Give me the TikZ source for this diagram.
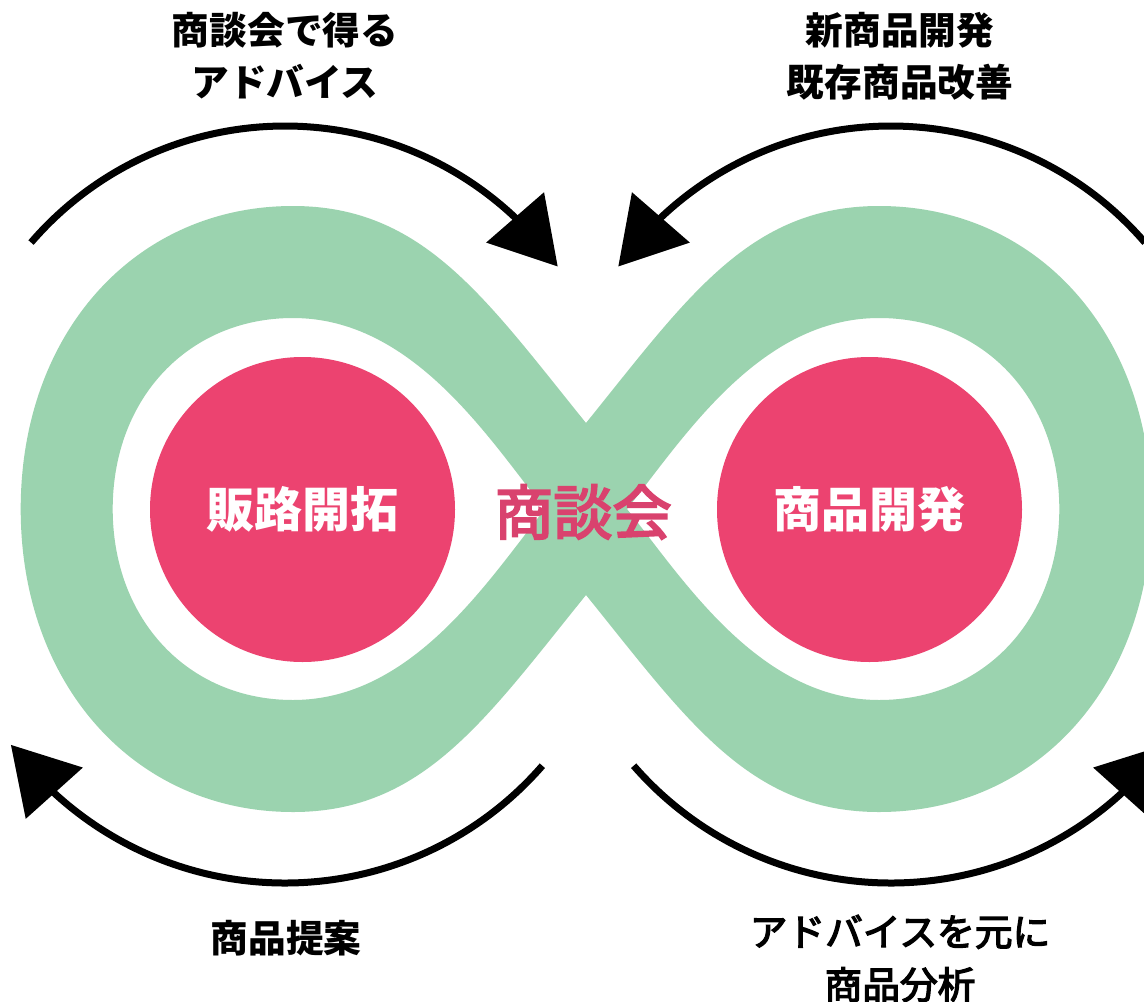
\documentclass[tikz,border=0pt]{standalone}
\usepackage{fontspec}
\newfontfamily\jp{Noto Sans CJK JP}
\newfontfamily\jpmed[FakeBold=3.5]{Noto Sans CJK JP}
\usetikzlibrary{arrows.meta,bending,calc}
\definecolor{bandgreen}{HTML}{9BD3AF}
\definecolor{hubred}{HTML}{EC4370}
\definecolor{hubtxt}{HTML}{D9426E}
\begin{document}
\begin{tikzpicture}[x=1pt,y=-1pt,
  lbl/.style={font={\jp\bfseries\fontsize{37.7pt}{52pt}\selectfont}, align=center, text=black, inner sep=0pt},
  lblmed/.style={font={\jpmed\fontsize{37.7pt}{53pt}\selectfont}, align=center, text=black, inner sep=0pt},
  hub/.style={circle, fill=hubred, minimum size=305pt, inner sep=0pt, text=white,
              font={\jp\bfseries\fontsize{48pt}{56pt}\selectfont}},
  cyc/.style={line width=7pt, -{Triangle[length=65pt,width=75pt,flex]}}]
\useasboundingbox (0,0) rectangle (1144,1002);
\fill[white] (0,0) rectangle (1144,1002);
\clip (0,0) rectangle (1144,1002);

% green figure-eight band
\fill[bandgreen, even odd rule]
  (586,423) .. controls (485,298) and (423,206) .. (293,206)
  .. controls (135,206) and (20.7,333) .. (20.7,509)
  .. controls (20.7,685) and (135,812) .. (293,812)
  .. controls (423,812) and (485,720) .. (586,595)
  .. controls (687,720) and (749,812) .. (879,812)
  .. controls (1037,812) and (1151.3,685) .. (1151.3,509)
  .. controls (1151.3,333) and (1037,206) .. (879,206)
  .. controls (749,206) and (687,298) .. cycle
  (293,318) .. controls (413,318) and (489,439) .. (545,509)
  .. controls (489,579) and (413,700) .. (293,700)
  .. controls (188.4,700) and (112.7,619.8) .. (112.7,509)
  .. controls (112.7,398.2) and (188.4,318) .. cycle
  (879,318) .. controls (759,318) and (683,439) .. (627,509)
  .. controls (683,579) and (759,700) .. (879,700)
  .. controls (983.6,700) and (1059.3,619.8) .. (1059.3,509)
  .. controls (1059.3,398.2) and (983.6,318) .. cycle;

% hubs
\node[hub] (sales) at (302.5,509.5) {販路開拓};
\node[hub] (dev) at (869.5,509.5) {商品開発};
\node[font={\jpmed\fontsize{59pt}{64pt}\selectfont}, text=hubtxt, inner sep=0pt] (meet) at (583,512) {商談会};

% cycle arrows
\coordinate (cTL) at (285,461);
\coordinate (cTR) at (891,461);
\coordinate (cBL) at (285,542);
\coordinate (cBR) at (891,542);
\coordinate (aTL) at ($(cTL)+(-139.3:335)$);
\coordinate (aTR) at ($(cTR)+(-40.7:335)$);
\coordinate (aBL) at ($(cBL)+(41:341)$);
\coordinate (aBR) at ($(cBR)+(139:341)$);
\draw[cyc] (aTL) arc[start angle=-139.3, end angle=-35.5, radius=335];
\draw[cyc] (aTR) arc[start angle=-40.7, end angle=-144.5, radius=335];
\draw[cyc] (aBL) arc[start angle=41, end angle=143.5, radius=341];
\draw[cyc] (aBR) arc[start angle=139, end angle=36.5, radius=341];

% labels
\node[lbl] (advice) at (285,55.5) {商談会で得る\\アドバイス};
\node[lbl] (improve) at (900,56) {新商品開発\\既存商品改善};
\node[lbl] (propose) at (286,938) {商品提案};
\node[lblmed] (analyse) at (900,958.5) {アドバイスを元に\\商品分析};
\end{tikzpicture}
\end{document}
